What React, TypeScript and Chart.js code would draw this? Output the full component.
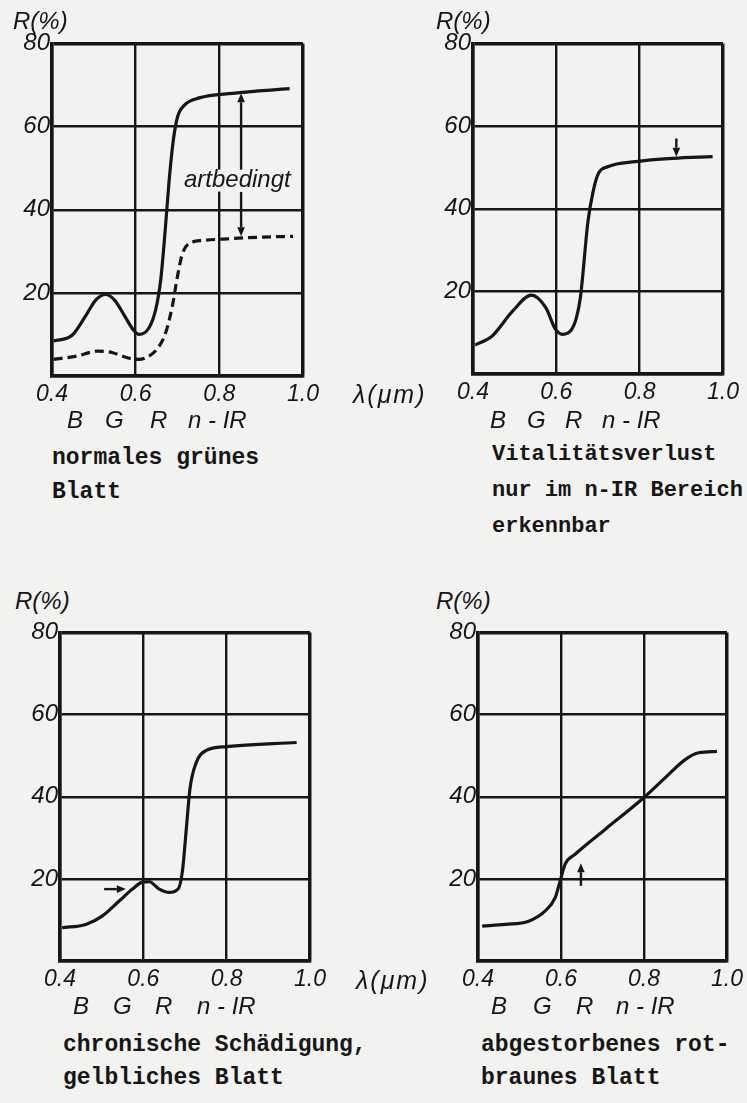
import React, { useEffect, useRef } from "react";
import { Chart, registerables } from "chart.js";

Chart.register(...registerables);

const INK = "#161616";
const PAPER = "#f2f2f0";
const TICK_FONT = "'Liberation Sans', Arial, sans-serif";
const MONO_FONT = "'Liberation Mono', 'DejaVu Sans Mono', monospace";

// axes
const xTicks = [0.4, 0.6, 0.8, 1.0];
const xTickLabels = ["0.4", "0.6", "0.8", "1.0"];
const yTicks = [0, 20, 40, 60, 80];
const yTickLabels = ["", "20", "40", "60", "80"];
const bandLabels = ["B", "G", "R", "n - IR"];

// panel 1: normales grünes Blatt (solid) and species-dependent (dashed)
const p1SolidX = [0.404, 0.448, 0.48, 0.505, 0.528, 0.55, 0.575, 0.595, 0.608, 0.632, 0.648, 0.66, 0.67, 0.68, 0.69, 0.7, 0.716, 0.752, 0.832, 0.968];
const p1SolidY = [8.4, 9.8, 14.4, 18.3, 19.6, 18.2, 14.2, 11.0, 10.0, 11.6, 16.0, 23.2, 34.3, 47.0, 56.7, 62.3, 65.1, 66.9, 68.0, 69.1];
const p1DashedX = [0.404, 0.46, 0.51, 0.545, 0.58, 0.608, 0.635, 0.655, 0.672, 0.688, 0.7, 0.712, 0.73, 0.76, 0.82, 0.9, 0.976];
const p1DashedY = [4.0, 4.8, 6.0, 5.6, 4.4, 4.0, 5.0, 7.0, 10.5, 17.0, 24.0, 29.5, 32.0, 32.6, 33.0, 33.4, 33.6];

// panel 2: Vitalitätsverlust
const p2X = [0.405, 0.445, 0.495, 0.54, 0.575, 0.597, 0.615, 0.637, 0.648, 0.658, 0.676, 0.688, 0.7, 0.725, 0.79, 0.88, 0.975];
const p2Y = [7.0, 9.1, 15.2, 19.1, 16.0, 11.0, 9.6, 10.8, 13.5, 18.7, 37.0, 44.0, 48.3, 50.2, 51.4, 52.2, 52.6];

// panel 3: chronische Schädigung
const p3X = [0.405, 0.462, 0.502, 0.542, 0.574, 0.598, 0.614, 0.638, 0.662, 0.684, 0.694, 0.703, 0.712, 0.727, 0.75, 0.8, 0.968];
const p3Y = [8.1, 8.9, 11.0, 14.6, 17.5, 19.2, 19.3, 17.5, 16.7, 17.6, 22.0, 32.0, 42.0, 48.3, 51.2, 52.2, 53.2];

// panel 4: abgestorbenes Blatt
const p4X = [0.41, 0.466, 0.522, 0.562, 0.586, 0.598, 0.61, 0.634, 0.707, 0.8, 0.852, 0.9, 0.932, 0.976];
const p4Y = [8.5, 8.9, 9.7, 12.2, 15.4, 19.5, 23.6, 26.0, 32.1, 39.8, 44.7, 49.1, 50.7, 51.0];

// annotations: [x1, y1, x2, y2] in data units, arrow head at end
const p1ArrowUp = [0.852, 49.5, 0.852, 68.0];
const p1ArrowDown = [0.852, 44.3, 0.852, 33.6];
const p1Note = { text: "artbedingt", x: 0.843, y: 47.0 };
const p2Arrow = [0.888, 57.0, 0.888, 52.6];
const p3Arrow = [0.506, 17.5, 0.558, 17.5];
const p4Arrow = [0.648, 18.3, 0.648, 23.8];

type Series = { x: number[]; y: number[]; dashed?: boolean };
type Geom = { left: number; top: number; right: number; bottom: number };
type Note = { text: string; x: number; y: number };

const PAD_L = 56;
const PAD_T = 16;
const PAD_R = 24;
const PAD_B = 40;

function drawArrow(ctx: CanvasRenderingContext2D, x1: number, y1: number, x2: number, y2: number) {
  const ang = Math.atan2(y2 - y1, x2 - x1);
  const head = 9;
  const half = 3.8;
  const bx = x2 - head * Math.cos(ang);
  const by = y2 - head * Math.sin(ang);
  ctx.beginPath();
  ctx.moveTo(x1, y1);
  ctx.lineTo(bx, by);
  ctx.stroke();
  ctx.beginPath();
  ctx.moveTo(x2, y2);
  ctx.lineTo(bx + half * Math.sin(ang), by - half * Math.cos(ang));
  ctx.lineTo(bx - half * Math.sin(ang), by + half * Math.cos(ang));
  ctx.closePath();
  ctx.fill();
}

function Panel({ geom, series, arrows, note }: { geom: Geom; series: Series[]; arrows: number[][]; note?: Note }) {
  const ref = useRef<HTMLCanvasElement | null>(null);
  const width = geom.right - geom.left + PAD_L + PAD_R;
  const height = geom.bottom - geom.top + PAD_T + PAD_B;

  useEffect(() => {
    if (!ref.current) return;
    const annot = {
      id: "annot",
      afterDatasetsDraw(chart: any) {
        const ctx = chart.ctx as CanvasRenderingContext2D;
        const xs = chart.scales.x;
        const ys = chart.scales.y;
        ctx.save();
        ctx.strokeStyle = INK;
        ctx.fillStyle = INK;
        ctx.lineWidth = 2.4;
        ctx.lineCap = "butt";
        arrows.forEach((a) => {
          drawArrow(ctx, xs.getPixelForValue(a[0]), ys.getPixelForValue(a[1]), xs.getPixelForValue(a[2]), ys.getPixelForValue(a[3]));
        });
        if (note) {
          const px = xs.getPixelForValue(note.x);
          const py = ys.getPixelForValue(note.y);
          ctx.font = `italic 24px ${TICK_FONT}`;
          ctx.textAlign = "center";
          ctx.textBaseline = "middle";
          const w = ctx.measureText(note.text).width;
          ctx.fillStyle = PAPER;
          ctx.fillRect(px - w / 2 - 2, py - 11, w + 4, 22);
          ctx.fillStyle = INK;
          ctx.fillText(note.text, px, py);
        }
        ctx.restore();
      },
    };
    const chart = new Chart(ref.current, {
      type: "line",
      data: {
        datasets: series.map((s) => ({
          data: s.x.map((x, i) => ({ x, y: s.y[i] })),
          borderColor: INK,
          borderWidth: 3.2,
          borderDash: s.dashed ? [9, 5] : [],
          pointRadius: 0,
          cubicInterpolationMode: "monotone" as const,
          fill: false,
        })),
      },
      options: {
        animation: false,
        responsive: false,
        maintainAspectRatio: false,
        events: [],
        layout: { padding: { top: PAD_T, right: PAD_R, left: 0, bottom: 0 } },
        plugins: { legend: { display: false }, tooltip: { enabled: false }, title: { display: false } },
        scales: {
          x: {
            type: "linear",
            min: 0.4,
            max: 1.0,
            afterBuildTicks: (s: any) => {
              s.ticks = xTicks.map((v) => ({ value: v }));
            },
            afterFit: (s: any) => {
              s.height = PAD_B;
            },
            ticks: {
              autoSkip: false,
              maxRotation: 0,
              padding: 5,
              color: INK,
              font: { family: TICK_FONT, size: 23, style: "italic" },
              callback: (v: any) => xTickLabels[xTicks.indexOf(Number(v))] ?? "",
            },
            grid: {
              color: INK,
              drawTicks: false,
              lineWidth: (c: any) => (c.tick && c.tick.value === 1.0 ? 3.5 : 2.4),
            },
            border: { display: true, color: INK, width: 3.5 },
          },
          y: {
            type: "linear",
            min: 0,
            max: 80,
            afterBuildTicks: (s: any) => {
              s.ticks = yTicks.map((v) => ({ value: v }));
            },
            afterFit: (s: any) => {
              s.width = PAD_L;
            },
            ticks: {
              autoSkip: false,
              padding: 2,
              color: INK,
              font: { family: TICK_FONT, size: 24, style: "italic" },
              callback: (v: any) => yTickLabels[yTicks.indexOf(Number(v))] ?? "",
            },
            grid: {
              color: INK,
              drawTicks: false,
              lineWidth: (c: any) => (c.tick && c.tick.value === 80 ? 3.5 : 2.4),
            },
            border: { display: true, color: INK, width: 3.5 },
          },
        },
      },
      plugins: [annot],
    });
    return () => chart.destroy();
  }, []);

  return (
    <canvas
      ref={ref}
      width={width}
      height={height}
      style={{ position: "absolute", left: geom.left - PAD_L, top: geom.top - PAD_T, width, height }}
    />
  );
}

function T({ x, cy, text, size = 23, italic = false, mono = false, bold = false, spacing = 0 }: { x: number; cy: number; text: string; size?: number; italic?: boolean; mono?: boolean; bold?: boolean; spacing?: number }) {
  const lh = 26;
  return (
    <div
      style={{
        position: "absolute",
        left: x,
        top: cy - lh / 2,
        lineHeight: `${lh}px`,
        fontSize: size,
        fontFamily: mono ? MONO_FONT : TICK_FONT,
        fontStyle: italic ? "italic" : "normal",
        fontWeight: bold ? 700 : 400,
        letterSpacing: spacing,
        color: INK,
        whiteSpace: "pre",
      }}
    >
      {text}
    </div>
  );
}

function Bands({ xs, cy }: { xs: number[]; cy: number }) {
  return (
    <>
      {bandLabels.map((b, i) => (
        <T key={i} x={xs[i]} cy={cy} text={b} size={24} italic />
      ))}
    </>
  );
}

export default function App() {
  useEffect(() => {
    document.body.style.margin = "0";
    document.body.style.background = PAPER;
  }, []);
  return (
    <div style={{ position: "absolute", left: 0, top: 0, width: 747, height: 1103, background: PAPER, overflow: "hidden" }}>
      <Panel
        geom={{ left: 52, top: 43, right: 303, bottom: 376 }}
        series={[
          { x: p1SolidX, y: p1SolidY },
          { x: p1DashedX, y: p1DashedY, dashed: true },
        ]}
        arrows={[p1ArrowUp, p1ArrowDown]}
        note={p1Note}
      />
      <Panel geom={{ left: 473, top: 43, right: 723, bottom: 374 }} series={[{ x: p2X, y: p2Y }]} arrows={[p2Arrow]} />
      <Panel geom={{ left: 60, top: 632, right: 310, bottom: 961 }} series={[{ x: p3X, y: p3Y }]} arrows={[p3Arrow]} />
      <Panel geom={{ left: 478, top: 632, right: 727, bottom: 961 }} series={[{ x: p4X, y: p4Y }]} arrows={[p4Arrow]} />

      <T x={13} cy={21} text="R(%)" size={24} italic />
      <T x={436} cy={21} text="R(%)" size={24} italic />
      <T x={15} cy={601} text="R(%)" size={24} italic />
      <T x={436} cy={601} text="R(%)" size={24} italic />

      <T x={353} cy={394} text="λ(μm)" size={25} italic spacing={2} />
      <T x={356} cy={980} text="λ(μm)" size={25} italic spacing={2} />

      <Bands xs={[67, 105, 150, 188]} cy={420} />
      <Bands xs={[490, 527, 565, 602]} cy={420} />
      <Bands xs={[73, 113, 155, 197]} cy={1006} />
      <Bands xs={[491, 533, 576, 616]} cy={1006} />

      <T x={52} cy={458} text="normales grünes" size={23} mono bold />
      <T x={52} cy={492} text="Blatt" size={23} mono bold />
      <T x={492} cy={455} text="Vitalitätsverlust" size={22} mono bold />
      <T x={492} cy={491} text="nur im n-IR Bereich" size={22} mono bold />
      <T x={492} cy={527} text="erkennbar" size={22} mono bold />
      <T x={63} cy={1045} text="chronische Schädigung," size={23} mono bold />
      <T x={63} cy={1078} text="gelbliches Blatt" size={23} mono bold />
      <T x={481} cy={1045} text="abgestorbenes rot-" size={23} mono bold />
      <T x={481} cy={1078} text="braunes Blatt" size={23} mono bold />
    </div>
  );
}
